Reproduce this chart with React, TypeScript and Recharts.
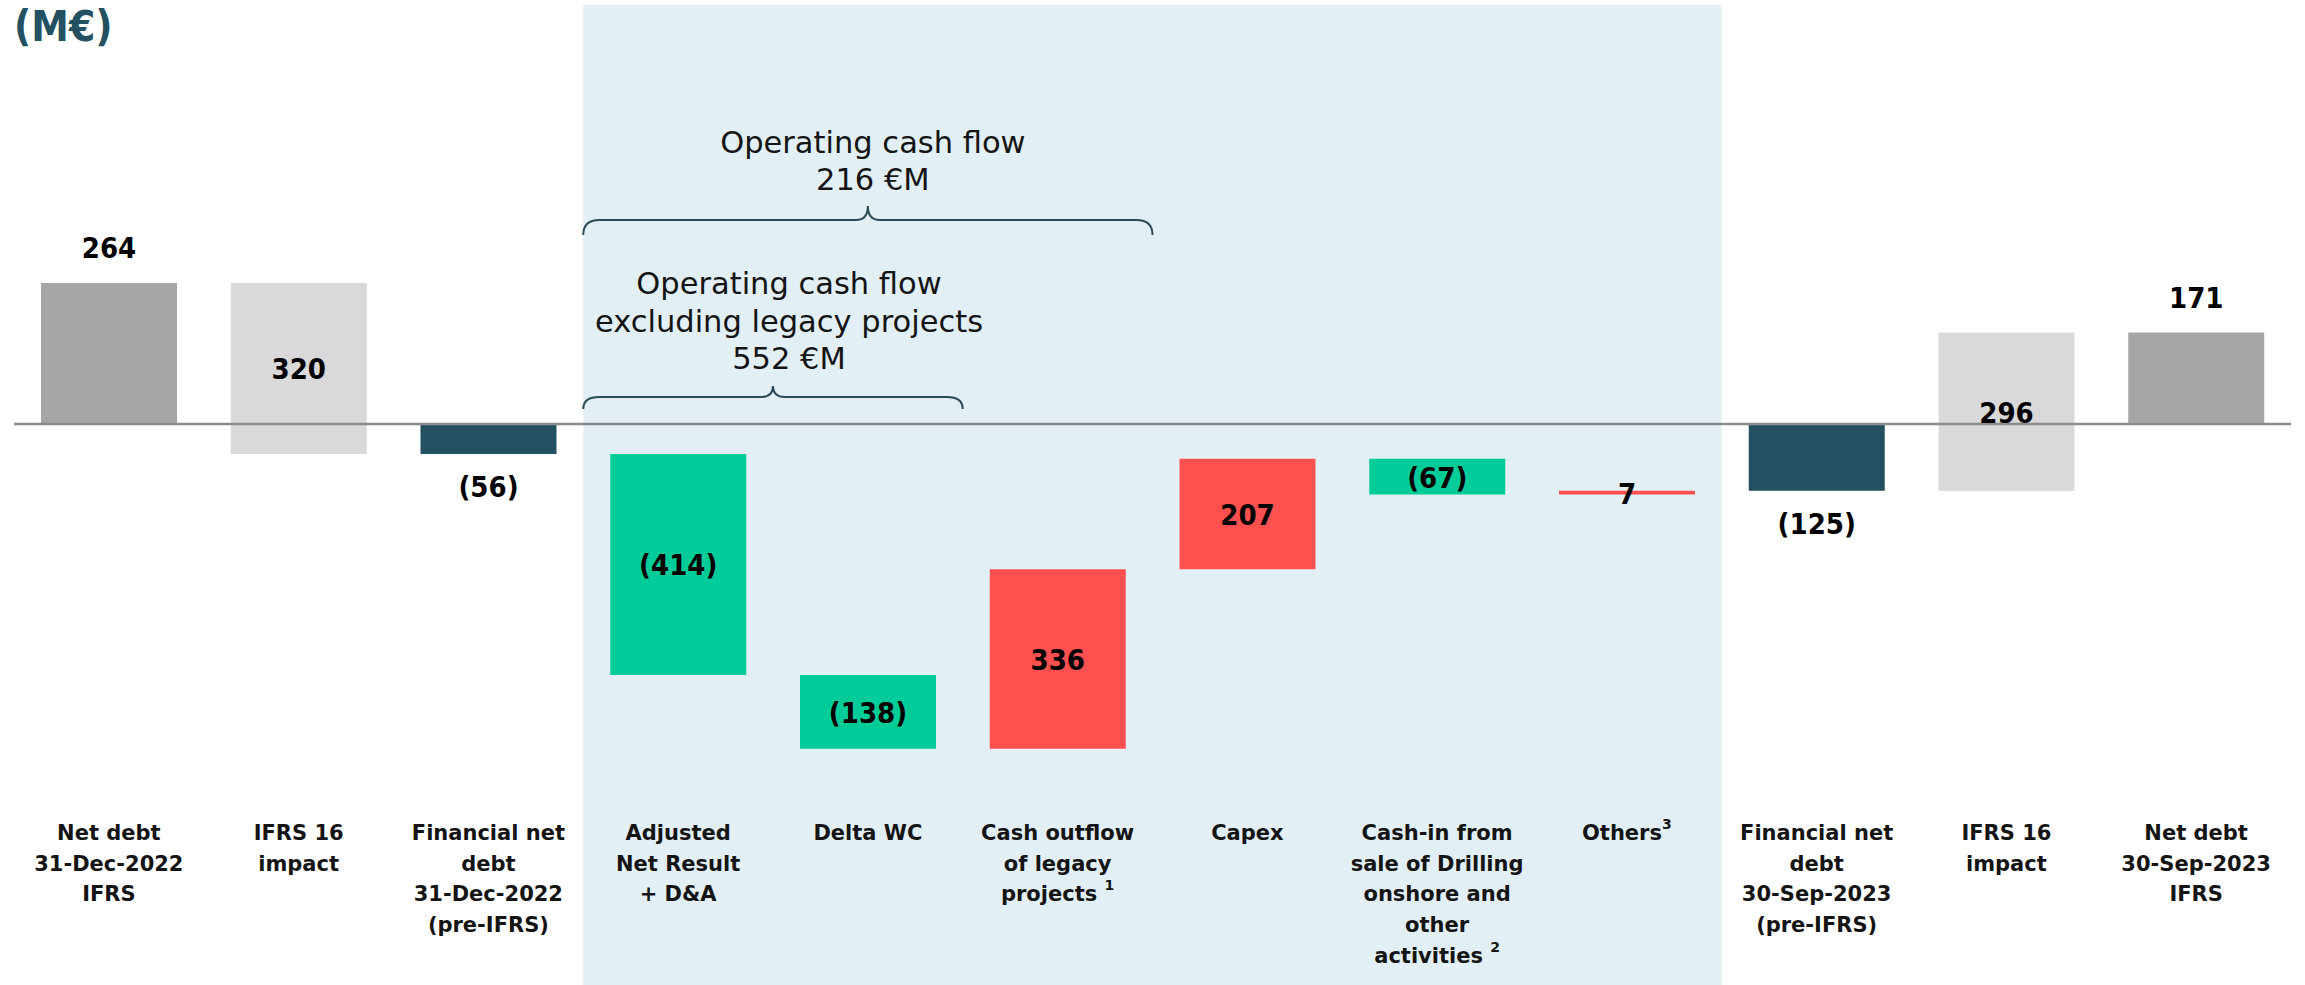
import React from 'react';
import { BarChart, Bar, XAxis, YAxis, Cell, LabelList, ReferenceArea, ReferenceLine } from 'recharts';

// ---------- data ----------
const categories = [
  'netDebtDec22', 'ifrs16Dec22', 'finNetDebtDec22', 'adjNetResult', 'deltaWC', 'legacyOutflow',
  'capex', 'cashInSale', 'others', 'finNetDebtSep23', 'ifrs16Sep23', 'netDebtSep23',
];
const tickLabels = [
  ['Net debt', '31-Dec-2022', 'IFRS'],
  ['IFRS 16', 'impact'],
  ['Financial net', 'debt', '31-Dec-2022', '(pre-IFRS)'],
  ['Adjusted', 'Net Result', '+ D&A'],
  ['Delta WC'],
  ['Cash outflow', 'of legacy', 'projects ^1'],
  ['Capex'],
  ['Cash-in from', 'sale of Drilling', 'onshore and', 'other', 'activities ^2'],
  ['Others^3'],
  ['Financial net', 'debt', '30-Sep-2023', '(pre-IFRS)'],
  ['IFRS 16', 'impact'],
  ['Net debt', '30-Sep-2023', 'IFRS'],
];
const kinds = ['total', 'delta', 'total', 'delta', 'delta', 'delta', 'delta', 'delta', 'delta', 'total', 'delta', 'total'];
const values = [264, -320, -56, -414, -138, 336, 207, -67, 7, -125, 296, 171];
const valueLabels = ['264', '320', '(56)', '(414)', '(138)', '336', '207', '(67)', '7', '(125)', '296', '171'];
const ocfLines = ['Operating cash flow', '216 €M'];
const ocfExLegacyLines = ['Operating cash flow', 'excluding legacy projects', '552 €M'];
const unitTitle = '(M€)';

// ---------- styles ----------
const barColors = ['#A6A6A6', '#D9D9D9', '#235161', '#00CC99', '#00CC99', '#FF5050', '#FF5050', '#00CC99', '#FF5050', '#235161', '#D9D9D9', '#A6A6A6'];
const FONT = "'DejaVu Sans', sans-serif";
const FONT_COND = "'DejaVu Sans Condensed', 'DejaVu Sans', sans-serif";
const AXIS_H = 195;
const TEXT_COLOR = '#141414';
const BRACE_COLOR = '#2A4B58';

// waterfall ranges computed from the values
let running = 0;
const chartData = categories.map((key, i) => {
  let lo: number;
  let hi: number;
  if (kinds[i] === 'total') {
    running = values[i];
    lo = Math.min(0, values[i]);
    hi = Math.max(0, values[i]);
  } else {
    const next = running + values[i];
    lo = Math.min(running, next);
    hi = Math.max(running, next);
    running = next;
  }
  return { key, range: [lo, hi] };
});

const CategoryTick = (props: any) => {
  const { x, y, payload } = props;
  let i = typeof props.index === 'number' ? props.index : -1;
  if (payload && categories.indexOf(payload.value) >= 0) i = categories.indexOf(payload.value);
  const lines = tickLabels[i] || [];
  return (
    <text x={x} y={y} textAnchor="middle" fontFamily={FONT} fontWeight="bold" fontSize={21} fill={TEXT_COLOR}>
      {lines.map((ln, k) => {
        const [main, sup] = ln.split('^');
        return (
          <tspan key={k} x={x} y={y + 50 + k * 30.7}>
            {main}
            {sup ? <tspan dy={-11} fontSize={14}>{sup}</tspan> : null}
          </tspan>
        );
      })}
    </text>
  );
};

const renderValueLabel = (props: any) => {
  const { x, y, width, height, index } = props;
  const top = Math.min(Number(y), Number(y) + Number(height));
  const bottom = Math.max(Number(y), Number(y) + Number(height));
  const cx = Number(x) + Number(width) / 2;
  let ty: number;
  if (kinds[index] === 'total' && values[index] > 0) ty = top - 25;
  else if (kinds[index] === 'total') ty = bottom + 43;
  else ty = (top + bottom) / 2 + 11;
  return (
    <text key={`vl-${index}`} x={cx} y={ty} textAnchor="middle" fontFamily={FONT_COND} fontStretch="condensed" fontWeight="bold" fontSize={29} fill="#000">
      {valueLabels[index]}
    </text>
  );
};

const makeBrace = (cfg: { yH: number; yTip: number; yPeak: number; textY: number; lh: number; textDx: number; lines: string[] }) => (p: any) => {
  const x0 = Number(p.x);
  const x1 = Number(p.x) + Number(p.width);
  const cx = (x0 + x1) / 2;
  const r = 16;
  const r2 = 12;
  const { yH, yTip, yPeak } = cfg;
  const d = `M ${x0} ${yTip} Q ${x0} ${yH} ${x0 + r} ${yH} L ${cx - r2} ${yH} Q ${cx} ${yH} ${cx} ${yPeak} Q ${cx} ${yH} ${cx + r2} ${yH} L ${x1 - r} ${yH} Q ${x1} ${yH} ${x1} ${yTip}`;
  return (
    <g>
      <path d={d} fill="none" stroke={BRACE_COLOR} strokeWidth={2} />
      <text textAnchor="middle" fontFamily={FONT} fontSize={30.5} fill={TEXT_COLOR}>
        {cfg.lines.map((l, k) => (
          <tspan key={k} x={cx + cfg.textDx} y={cfg.textY + k * cfg.lh}>{l}</tspan>
        ))}
      </text>
    </g>
  );
};

const shadeShape = (p: any) => (
  <rect x={p.x} y={p.y} width={p.width} height={Number(p.height) + AXIS_H} fill="#E2EFF5" />
);

export default function App() {
  return (
    <div style={{ position: 'relative', width: 2305, height: 985, background: '#fff' }}>
      <style>{'body{margin:0;}'}</style>
      <BarChart
        width={2305}
        height={985}
        data={chartData}
        margin={{ top: 5, right: 14, bottom: 0, left: 14 }}
        barSize={136}
      >
        <XAxis
          dataKey="key"
          interval={0}
          tickLine={false}
          axisLine={false}
          tickSize={0}
          tickMargin={0}
          height={AXIS_H}
          tick={<CategoryTick />}
        />
        <YAxis hide type="number" domain={[-685, 784]} allowDataOverflow />
        <ReferenceArea x1="adjNetResult" x2="others" shape={shadeShape} ifOverflow="visible" />
        <ReferenceArea
          x1="adjNetResult"
          x2="legacyOutflow"
          ifOverflow="visible"
          shape={makeBrace({ yH: 220, yTip: 235, yPeak: 206, textY: 153, lh: 37, textDx: 5, lines: ocfLines })}
        />
        <ReferenceArea
          x1="adjNetResult"
          x2="deltaWC"
          ifOverflow="visible"
          shape={makeBrace({ yH: 397, yTip: 409, yPeak: 386, textY: 294, lh: 37.5, textDx: 16, lines: ocfExLegacyLines })}
        />
        <Bar dataKey="range" isAnimationActive={false}>
          {chartData.map((d, i) => (
            <Cell key={d.key} fill={barColors[i]} />
          ))}
          <LabelList dataKey="range" content={renderValueLabel} />
        </Bar>
        <ReferenceLine y={0} stroke="#8C8C8C" strokeWidth={2.5} />
      </BarChart>
      <svg width={220} height={60} style={{ position: 'absolute', left: 0, top: 0 }}>
        <text x={14} y={41} fontFamily={FONT_COND} fontStretch="condensed" fontWeight="bold" fontSize={42} fill="#235161">{unitTitle}</text>
      </svg>
    </div>
  );
}
